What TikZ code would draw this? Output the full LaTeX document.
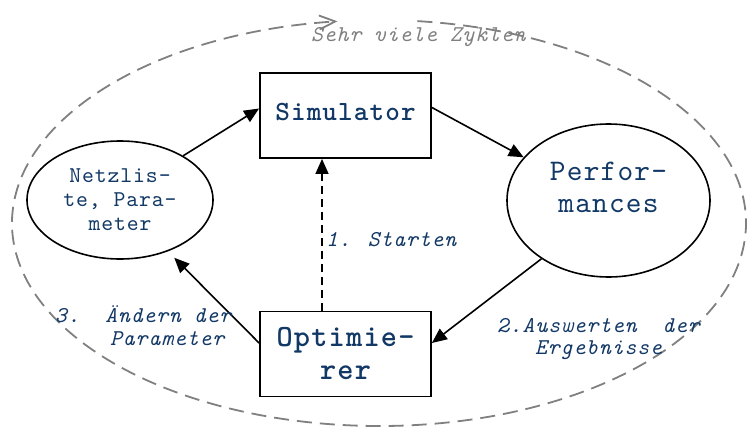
\documentclass[tikz,border=0pt]{standalone}
\usepackage{fontspec}
% typewriter face with a little tracking, for all texts
\newfontfamily\typewriter{lmmono10-regular.otf}[
  BoldFont=lmmonolt10-bold.otf,
  ItalicFont=lmmono10-italic.otf,
  LetterSpace=4]
\usetikzlibrary{arrows.meta,shapes.geometric}

\definecolor{inkblue}{RGB}{18,56,102}
\definecolor{cyclegray}{RGB}{128,128,128}

\tikzset{
  procbox/.style={draw=black, line width=1.8pt, minimum width=171pt,
    minimum height=85pt, inner sep=0pt, text=inkblue, align=center,
    font=\typewriter\bfseries\fontsize{27.8}{33}\selectfont},
  dataell/.style={draw=black, line width=1.6pt, ellipse, inner sep=0pt,
    text=inkblue, align=center},
  flow/.style={line width=1.6pt, -{Triangle[length=15pt,width=13pt]}},
  steplabel/.style={text=inkblue, anchor=base west, inner sep=0pt,
    font=\typewriter\itshape\fontsize{22.6}{23}\selectfont},
  cycleline/.style={draw=cyclegray, line width=1.8pt,
    dash pattern=on 15pt off 8pt,
    -{Straight Barb[length=16pt,width=14pt,line width=1.8pt]}},
}

\begin{document}
\begin{tikzpicture}[x=1pt, y=-1pt]
  \useasboundingbox (0,0) rectangle (747,428);

  % outer cycle
  \coordinate (cyc) at (379,223);
  \draw[cycleline] (cyc) ++(276:367 and 203)
    arc[start angle=276, end angle=623.5, x radius=367, y radius=203];
  \node[steplabel, text=cyclegray] (cyctext) at (311,42) {Sehr viele Zyklen};

  % blocks
  \node[procbox] (sim) at (345.5,115.5) {Simulator\rule[-6.6pt]{0pt}{6.6pt}};
  \node[procbox, font=\typewriter\bfseries\fontsize{30.8}{33}\selectfont]
    (opt) at (345.5,354) {Optimie-\\rer};
  \node[dataell, minimum width=186pt, minimum height=118pt,
        font=\typewriter\fontsize{22.6}{24}\selectfont]
    (net) at (120,200) {Netzlis-\\te, Para-\\meter};
  \node[dataell, minimum width=203pt, minimum height=153pt,
        font=\typewriter\fontsize{29.9}{32}\selectfont]
    (perf) at (608.5,200.5) {Perfor-\\mances\rule[-27pt]{0pt}{27pt}};

  % flow
  \draw[flow] (net.35) -- ([yshift=7pt]sim.west);
  \draw[flow] ([yshift=8pt]sim.east) -- (perf.153);
  \draw[flow] (perf.221) -- ([yshift=11pt]opt.east);
  \draw[flow, shorten >=9pt] ([yshift=11pt]opt.west) -- (net.313);
  \draw[flow, line width=1.4pt, dash pattern=on 8pt off 5pt]
    ([xshift=-23.5pt]opt.north) -- ([xshift=-23.5pt]sim.south);

  % step labels
  \node[steplabel] (start) at (326,246) {1. Starten};
  \node[steplabel] (evala) at (497,332) {2.Auswerten\ \ der};
  \node[steplabel] (evalb) at (535,354) {Ergebnisse};
  \node[steplabel] (changea) at (55,322) {3.\ \ Ändern der};
  \node[steplabel] (changeb) at (110,345) {Parameter};
\end{tikzpicture}
\end{document}
